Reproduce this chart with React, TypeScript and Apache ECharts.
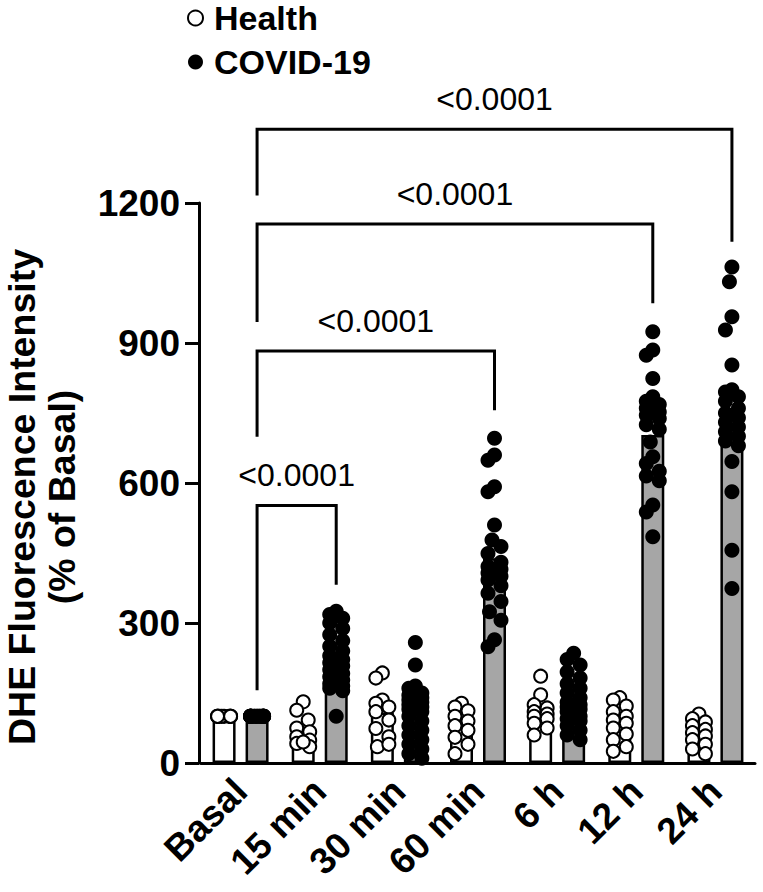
import React, { useEffect, useRef } from "react";
import * as echarts from "echarts";

// ---------- data ----------
const CATEGORIES = ["Basal", "15 min", "30 min", "60 min", "6 h", "12 h", "24 h"];
const Y_TICKS = [0, 300, 600, 900, 1200];

const HEALTH_MEAN = [100, 71, 108, 78, 113, 86, 66];
const COVID_MEAN = [100, 217, 114, 439, 134, 703, 753];

const HEALTH_BASAL = [100, 100, 100, 100, 100, 100, 100, 100, 100, 100];
const HEALTH_15MIN = [131, 113, 92, 75, 67, 56, 49, 42, 35, 45];
const HEALTH_30MIN = [193, 182, 135, 128, 120, 110, 92, 74, 56, 35, 40];
const HEALTH_60MIN = [128, 120, 112, 100, 90, 80, 70, 55, 40, 20];
const HEALTH_6H = [186, 146, 125, 118, 110, 105, 100, 95, 85, 75, 60];
const HEALTH_12H = [140, 135, 122, 110, 100, 92, 85, 75, 62, 50, 35, 25];
const HEALTH_24H = [105, 95, 88, 80, 72, 65, 58, 50, 40, 30, 20];

const COVID_BASAL = [100, 100, 100, 100, 100, 100, 100, 100, 100, 100, 100, 100, 100, 100, 100, 100, 100, 100, 100, 100, 100, 100];
const COVID_15MIN = [325, 318, 310, 300, 288, 275, 262, 250, 240, 230, 222, 215, 208, 200, 192, 185, 178, 170, 165, 160, 155, 100];
const COVID_30MIN = [258, 210, 165, 160, 150, 145, 140, 135, 130, 125, 120, 115, 110, 100, 90, 80, 70, 60, 50, 40, 30, 20, 10];
const COVID_60MIN = [696, 660, 649, 592, 581, 510, 478, 464, 449, 430, 421, 415, 407, 400, 392, 380, 364, 346, 324, 306, 264, 249];
const COVID_6H = [235, 222, 210, 195, 182, 170, 160, 150, 140, 130, 125, 120, 115, 110, 100, 95, 90, 80, 70, 60, 50];
const COVID_12H = [924, 885, 874, 824, 785, 775, 768, 760, 752, 745, 738, 725, 715, 688, 656, 642, 625, 615, 605, 553, 538, 485];
const COVID_24H = [1063, 1031, 956, 928, 853, 800, 795, 785, 775, 760, 750, 740, 730, 720, 710, 700, 690, 680, 646, 581, 456, 374];

const HEALTH_POINTS = [HEALTH_BASAL, HEALTH_15MIN, HEALTH_30MIN, HEALTH_60MIN, HEALTH_6H, HEALTH_12H, HEALTH_24H];
const COVID_POINTS = [COVID_BASAL, COVID_15MIN, COVID_30MIN, COVID_60MIN, COVID_6H, COVID_12H, COVID_24H];

// significance brackets: from Basal COVID bar to the COVID bar of category BRACKET_TO
const BRACKET_TO = [1, 3, 5, 6];
const BRACKET_TOP = [552, 883, 1155, 1358];
const BRACKET_LEFT_END = [156, 699, 945, 1216];
const BRACKET_RIGHT_END = [382, 756, 985, 1117];
const BRACKET_LABEL = ["<0.0001", "<0.0001", "<0.0001", "<0.0001"];

// ---------- layout ----------
const W = 763;
const H = 892;
const GRID_LEFT = 201;
const GRID_TOP = 203;
const GRID_W = 554;
const GRID_H = 560;
const Y_MIN = 0;
const Y_MAX = 1200;
const BAR_W = 23;
const BAR_GAP_PX = 10;
const DOT = 15;
const FONT = '"Liberation Sans", Arial, Helvetica, sans-serif';

const PX_PER_UNIT = GRID_H / (Y_MAX - Y_MIN);
const BAND_PX = GRID_W / CATEGORIES.length;
const SIDE_OFFSET = (BAR_W + BAR_GAP_PX) / 2 / BAND_PX;
const JITTER_STEPS = [0, -2.5, 2.5, -5, 5, -6.5, 6.5];

function swarm(groups: number[][], side: number): number[][] {
  const out: number[][] = [];
  groups.forEach((vals, i) => {
    const placed: [number, number][] = [];
    vals.forEach((v) => {
      const py = v * PX_PER_UNIT;
      let best = 0;
      let bestCost = Infinity;
      for (const c of JITTER_STEPS) {
        let cost = 0;
        for (const [px2, py2] of placed) {
          const d = Math.hypot(c - px2, py - py2);
          if (d < DOT) cost += (DOT - d) * (DOT - d);
        }
        if (cost < bestCost - 1e-6) {
          bestCost = cost;
          best = c;
        }
      }
      placed.push([best, py]);
      out.push([i + side * SIDE_OFFSET + best / BAND_PX, v]);
    });
  });
  return out;
}

export default function App() {
  const ref = useRef<HTMLDivElement>(null);

  useEffect(() => {
    document.body.style.margin = "0";
    if (!ref.current) return;
    const chart = echarts.init(ref.current, null, { renderer: "svg" });

    const bracketData = BRACKET_TO.map((to, k) => [
      0 + SIDE_OFFSET,
      to + SIDE_OFFSET,
      BRACKET_TOP[k],
      BRACKET_LEFT_END[k],
      BRACKET_RIGHT_END[k],
    ]);

    chart.setOption({
      animation: false,
      backgroundColor: "#fff",
      grid: { left: GRID_LEFT, top: GRID_TOP, width: GRID_W, height: GRID_H },
      legend: {
        data: ["Health", "COVID-19"],
        orient: "vertical",
        left: 182,
        top: -4,
        itemWidth: 15,
        itemHeight: 15,
        itemGap: 10,
        selectedMode: false,
        textStyle: {
          fontSize: 34,
          fontWeight: "bold",
          fontFamily: FONT,
          color: "#000",
          lineHeight: 34,
          padding: [0, 0, 0, 6],
        },
      },
      xAxis: [
        {
          type: "category",
          data: CATEGORIES,
          axisLine: { onZero: false, lineStyle: { color: "#000", width: 3 } },
          axisTick: { alignWithLabel: true, length: 14, lineStyle: { color: "#000", width: 3 } },
          axisLabel: {
            interval: 0,
            rotate: 45,
            margin: 22,
            fontSize: 37,
            fontWeight: "bold",
            fontFamily: FONT,
            color: "#000",
          },
          splitLine: { show: false },
        },
        { type: "value", min: -0.5, max: CATEGORIES.length - 0.5, show: false },
      ],
      yAxis: {
        type: "value",
        min: Y_TICKS[0],
        max: Y_TICKS[Y_TICKS.length - 1],
        interval: Y_TICKS[1] - Y_TICKS[0],
        offset: 2,
        axisLine: { show: true, onZero: false, lineStyle: { color: "#000", width: 3 } },
        axisTick: { show: true, length: 14, lineStyle: { color: "#000", width: 3 } },
        axisLabel: {
          margin: 19,
          fontSize: 37,
          fontWeight: "bold",
          fontFamily: FONT,
          color: "#000",
          formatter: (v: number) => String(v),
        },
        splitLine: { show: false },
      },
      graphic: [
        {
          type: "text",
          x: 42,
          y: 497,
          rotation: Math.PI / 2,
          style: {
            text: "DHE Fluorescence Intensity\n(% of Basal)",
            align: "center",
            verticalAlign: "middle",
            font: `bold 37.5px ${FONT}`,
            lineHeight: 40,
            fill: "#000",
          },
        },
      ],
      series: [
        {
          name: "Health mean",
          type: "bar",
          xAxisIndex: 0,
          data: HEALTH_MEAN,
          barWidth: BAR_W,
          barGap: `${(BAR_GAP_PX / BAR_W) * 100}%`,
          itemStyle: { color: "#fff", borderColor: "#000", borderWidth: 2.5 },
          z: 1,
        },
        {
          name: "COVID mean",
          type: "bar",
          xAxisIndex: 0,
          data: COVID_MEAN,
          barWidth: BAR_W,
          barGap: `${(BAR_GAP_PX / BAR_W) * 100}%`,
          itemStyle: { color: "#a6a6a6", borderColor: "#000", borderWidth: 2.5 },
          z: 1,
        },
        {
          name: "Health",
          type: "scatter",
          xAxisIndex: 1,
          data: swarm(HEALTH_POINTS, -1),
          symbol: "circle",
          symbolSize: DOT - 2,
          itemStyle: { color: "#fff", borderColor: "#000", borderWidth: 2, opacity: 1 },
          z: 3,
        },
        {
          name: "COVID-19",
          type: "scatter",
          xAxisIndex: 1,
          data: swarm(COVID_POINTS, 1),
          symbol: "circle",
          symbolSize: DOT,
          itemStyle: { color: "#000", opacity: 1 },
          z: 3,
        },
        {
          name: "brackets",
          type: "custom",
          xAxisIndex: 1,
          yAxisIndex: 0,
          clip: false,
          silent: true,
          z: 4,
          data: bracketData,
          renderItem: (params: any, api: any) => {
            const lx = api.value(0);
            const rx = api.value(1);
            const top = api.value(2);
            const pLe = api.coord([lx, api.value(3)]);
            const pL = api.coord([lx, top]);
            const pR = api.coord([rx, top]);
            const pRe = api.coord([rx, api.value(4)]);
            return {
              type: "group",
              children: [
                {
                  type: "polyline",
                  shape: { points: [pLe, pL, pR, pRe] },
                  style: { stroke: "#000", lineWidth: 3, fill: null, lineJoin: "miter" },
                },
                {
                  type: "text",
                  style: {
                    text: BRACKET_LABEL[params.dataIndex],
                    x: (pL[0] + pR[0]) / 2,
                    y: pL[1] - 14,
                    align: "center",
                    verticalAlign: "bottom",
                    font: `32px ${FONT}`,
                    fill: "#000",
                  },
                },
              ],
            };
          },
        },
      ],
    });

    return () => chart.dispose();
  }, []);

  return <div ref={ref} style={{ width: W, height: H }} />;
}
